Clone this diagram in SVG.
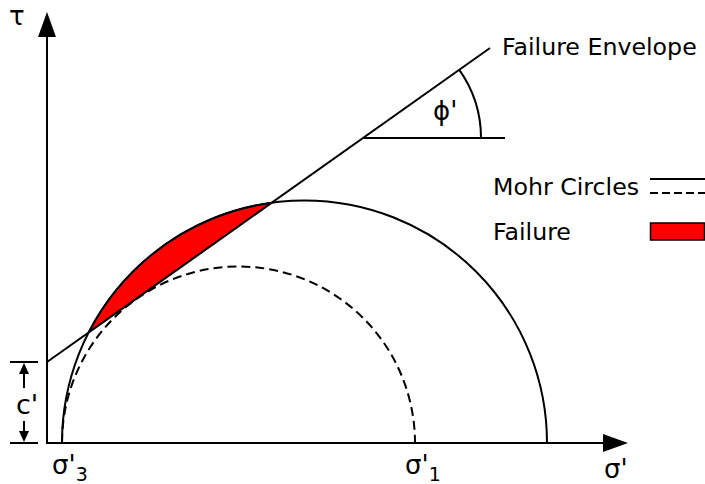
<svg xmlns="http://www.w3.org/2000/svg" width="705" height="484" viewBox="0 0 705 484">
<defs>
<style>
.ln{fill:none;stroke:#000;stroke-width:2}
.ds{fill:none;stroke:#000;stroke-width:2;stroke-dasharray:9,5}
.t{font-family:"DejaVu Sans","Verdana",sans-serif;font-size:23.7px;fill:#000}
.g{font-family:"DejaVu Sans","Verdana",sans-serif;font-size:26px;fill:#000}
.sub{font-size:19px}
</style>
</defs>
<rect width="705" height="484" fill="#fff"/>
<g id="failure-zone">
<path d="M88.6 332.5 A242.5 242.5 0 0 1 271.7 202.7 Z" fill="#ff0000" stroke="#000" stroke-width="1.5"/>
</g>
<g id="circles">
<path class="ln" d="M62 443 A242.5 242.5 0 0 1 547 443"/>
<path class="ds" d="M62 443 A176.5 176.5 0 0 1 415 443"/>
</g>
<g id="axes">
<line class="ln" x1="47" y1="443" x2="47" y2="36"/>
<polygon points="47,12 38,37 56,37" fill="#000"/>
<line class="ln" x1="46" y1="443" x2="604" y2="443"/>
<polygon points="628,443 603,434 603,452" fill="#000"/>
</g>
<g id="envelope">
<line class="ln" x1="47" y1="362" x2="490" y2="48"/>
<line class="ln" x1="363" y1="138" x2="505" y2="138"/>
<path class="ln" d="M481 138 A118 118 0 0 0 459.3 69.8"/>
</g>
<g id="cohesion">
<line class="ln" x1="10" y1="362" x2="38" y2="362"/>
<line class="ln" x1="10" y1="443" x2="38" y2="443"/>
<line class="ln" x1="24" y1="372" x2="24" y2="388"/>
<polygon points="24,363 19,374 29,374" fill="#000"/>
<line class="ln" x1="24" y1="421" x2="24" y2="433"/>
<polygon points="24,442 19,431 29,431" fill="#000"/>
</g>
<g id="legend">
<line class="ln" x1="650" y1="179" x2="705" y2="179"/>
<line x1="650" y1="193" x2="705" y2="193" stroke="#000" stroke-width="2" stroke-dasharray="8,4"/>
<rect x="650.5" y="223" width="54" height="17" fill="#ff0000" stroke="#000" stroke-width="1.5"/>
</g>
<g id="labels">
<text class="g" x="9" y="25">τ</text>
<text class="t" x="502" y="55">Failure Envelope</text>
<text class="g" x="433" y="120">ϕ'</text>
<text class="t" x="493" y="195">Mohr Circles</text>
<text class="t" x="493" y="240">Failure</text>
<text class="t" x="16" y="414" style="font-size:27px">c'</text>
<text class="g" x="52" y="474">σ'<tspan class="sub" dy="7">3</tspan></text>
<text class="g" x="405" y="474">σ'<tspan class="sub" dy="7">1</tspan></text>
<text class="g" x="604" y="478">σ'</text>
</g>
</svg>
